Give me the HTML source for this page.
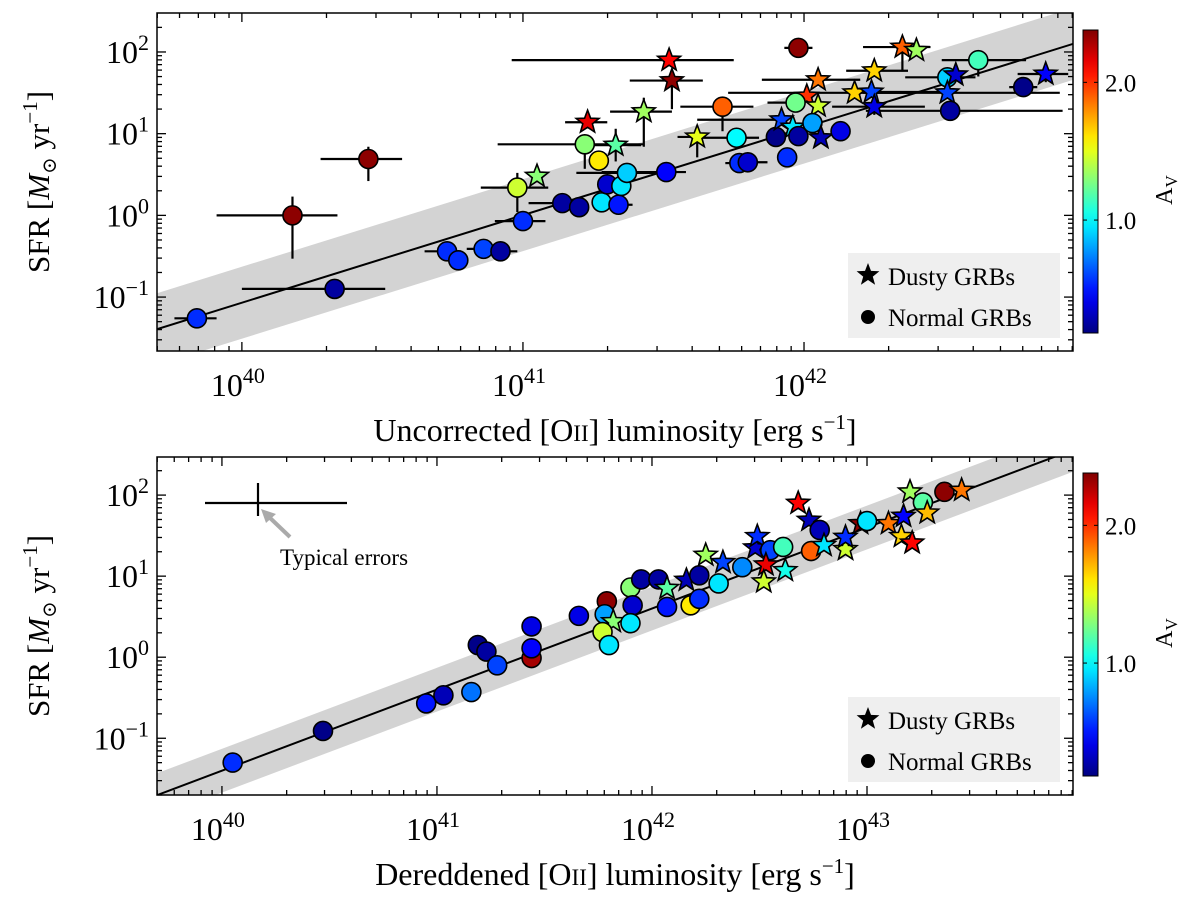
<!DOCTYPE html>
<html><head><meta charset="utf-8"><style>
body{margin:0;background:#fff}
svg{display:block}
text{font-family:"Liberation Serif","DejaVu Serif",serif;fill:#000}
</style></head><body>
<svg id="c" width="1200" height="906" viewBox="0 0 1200 906" xmlns="http://www.w3.org/2000/svg"></svg>
<script>
// ---- Top panel data (log10 L[OII] uncorrected, log10 SFR) ----
const topLogL=[39.84,40.18,40.45,40.33,40.73,40.77,40.86,40.92,40.98,41.05,41.00,41.14,41.20,41.28,41.34,41.30,41.35,41.37,41.51,41.27,41.22,41.23,41.33,41.43,41.52,41.53,41.71,41.62,41.76,41.77,41.80,41.90,41.92,41.96,41.94,41.98,42.05,42.01,41.97,42.05,42.03,41.98,42.06,42.13,42.25,42.18,42.24,42.25,42.35,42.40,42.51,42.54,42.51,42.52,42.62,42.78,42.86];
const topLogSFR=[-1.26,0.00,0.69,-0.90,-0.44,-0.55,-0.41,-0.44,0.34,0.48,-0.07,0.15,0.10,0.16,0.13,0.38,0.36,0.52,0.53,0.67,0.87,1.14,0.86,1.27,1.90,1.65,1.33,0.96,0.95,0.64,0.65,0.96,1.17,1.08,0.71,2.05,1.66,1.46,1.38,1.34,1.13,0.97,0.95,1.03,1.77,1.50,1.51,1.33,2.06,2.02,1.69,1.72,1.50,1.28,1.90,1.57,1.73];
const topAv=[0.55,2.35,2.35,0.25,0.55,0.55,0.6,0.25,1.45,1.3,0.55,0.25,0.25,0.95,0.5,0.35,0.95,0.9,0.45,1.6,1.3,2.15,1.2,1.35,2.1,2.35,1.9,1.5,1.0,0.55,0.35,0.2,0.6,0.95,0.55,2.35,1.85,2.0,1.25,1.45,0.8,0.25,0.3,0.4,1.65,1.65,0.6,0.4,1.9,1.35,0.9,0.35,0.6,0.25,1.15,0.2,0.45];
const topDusty=[0,0,0,0,0,0,0,0,0,1,0,0,0,0,0,0,0,0,0,0,0,1,1,1,1,1,0,1,0,0,0,0,1,1,0,0,1,1,0,1,0,0,1,0,1,1,1,1,1,1,0,1,1,0,0,0,1];
const topXlo=[.08,.27,.17,.33,.08,0,.06,.06,.13,0,.1,.12,0,0,0,0,0,.18,.23,0,.31,.08,.1,.12,.56,.15,.15,.07,.12,.05,0,0,.3,0,0,.05,.2,0,.1,0,0,0,0,0,.1,.45,0,.15,.14,0,.15,0,.3,.3,.13,.05,.1];
const topXhi=[.07,.16,.12,.18,.05,0,0,.06,.11,0,.08,.05,0,0,.05,0,0,.11,.07,0,.21,.07,.09,.1,.23,.11,.11,.03,.08,0,.07,0,0,0,0,.05,.15,0,0,0,0,0,0,0,.12,.2,.3,.18,.1,0,.1,0,.4,.4,.17,.05,.08];
const topYlo=[0,.53,.27,0,.1,0,0,0,.3,0,.05,0,0,0,0,0,0,.1,0,0,.3,0,.2,.43,0,.35,.3,.25,0,0,0,0,0,0,0,0,0,0,0,0,0,0,0,0,0,0,0,.1,.3,0,0,0,0,0,.2,0,.1];
const topYhi=[0,.23,.15,0,0,0,0,0,.18,0,0,0,0,0,0,0,0,.1,0,0,0,0,.2,.17,0,.13,.1,.1,0,0,0,0,0,0,0,0,.07,0,0,0,0,0,0,0,0,0,0,0,.1,0,0,0,0,0,.1,0,.1];
// ---- Bottom panel data (dereddened) ----
const botLogL=[40.05,40.47,40.95,41.03,41.16,41.19,41.23,41.28,41.44,41.44,41.44,41.66,41.79,41.78,41.82,41.77,41.80,41.90,41.95,41.91,41.90,42.03,42.07,42.07,42.16,42.18,42.22,42.22,42.25,42.31,42.33,42.42,42.48,42.49,42.55,42.61,42.53,42.52,42.62,42.68,42.73,42.78,42.74,42.80,42.90,42.90,42.97,43.00,43.10,43.17,43.16,43.21,43.20,43.26,43.28,43.36,43.44];
const botLogSFR=[-1.30,-0.91,-0.57,-0.47,-0.43,0.15,0.07,-0.10,-0.01,0.11,0.38,0.51,0.69,0.53,0.44,0.31,0.15,0.86,0.96,0.64,0.42,0.96,0.85,0.62,0.95,0.64,0.72,1.01,1.26,0.91,1.17,1.11,1.35,1.49,1.32,1.36,1.14,0.93,1.07,1.90,1.69,1.57,1.31,1.38,1.33,1.48,1.65,1.68,1.65,1.74,1.49,1.41,2.04,1.91,1.78,2.04,2.06];
const botAv=[0.55,0.2,0.5,0.3,0.7,0.2,0.25,0.6,2.3,0.45,0.4,0.4,2.35,0.8,1.3,1.45,0.95,1.3,0.25,0.35,0.95,0.25,1.2,0.5,0.3,1.6,0.55,0.25,1.35,0.95,0.6,0.75,0.35,0.55,0.6,1.15,2.15,1.45,1.05,2.1,0.3,0.3,1.9,0.95,1.45,0.55,2.35,0.95,1.85,0.45,1.65,2.1,1.35,1.2,1.7,2.35,1.85];
const botDusty=[0,0,0,0,0,0,0,0,0,0,0,0,0,0,1,0,0,0,0,0,0,0,1,0,1,0,0,0,1,0,1,0,1,1,0,0,1,1,1,1,1,0,0,1,1,1,1,0,1,1,1,1,1,0,1,0,1];
const xTicksTop=[40,41,42];
const xTicksBot=[40,41,42,43];
const yTicks=[-1,0,1,2];
const cbTicks=[1.0,2.0];
const avMin=0.18, avMax=2.38;

const S=document.getElementById('c'),NS='http://www.w3.org/2000/svg';
function el(t,a,p){const e=document.createElementNS(NS,t);for(const k in a)e.setAttribute(k,a[k]);(p||S).appendChild(e);return e;}
function jet(a){let v=(a-avMin)/(avMax-avMin);v=Math.max(0,Math.min(1,v));const c=x=>Math.round(255*Math.max(0,Math.min(1,1.5-Math.abs(4*v-x))));return `rgb(${c(3)},${c(2)},${c(1)})`;}
function starPath(cx,cy,R){const r=R*0.42;let d='';for(let i=0;i<10;i++){const a=-Math.PI/2+i*Math.PI/5,rr=i%2?r:R;d+=(i?'L':'M')+(cx+rr*Math.cos(a)).toFixed(1)+','+(cy+rr*Math.sin(a)).toFixed(1);}return d+'Z';}

function panel(cfg){
  const {L,T,R,B,x0,x1,y0,y1}=cfg;
  const X=v=>L+(v-x0)/(x1-x0)*(R-L), Y=v=>B-(v-y0)/(y1-y0)*(B-T);
  const g=el('g',{});
  
  
  const cp='clip'+cfg.name;
  const defs=el('defs',{},g);const clip=el('clipPath',{id:cp},defs);el('rect',{x:L,y:T,width:R-L,height:B-T},clip);
  const pg=el('g',{'clip-path':`url(#${cp})`},g);
  const fx0=x0-0.5,fx1=x1+0.5,f=v=>cfg.a+cfg.b*v;
  const band=el('polygon',{points:`${X(fx0)},${Y(f(fx0)+cfg.w)} ${X(fx1)},${Y(f(fx1)+cfg.w)} ${X(fx1)},${Y(f(fx1)-cfg.w)} ${X(fx0)},${Y(f(fx0)-cfg.w)}`,fill:'#d3d3d3'},pg);
  
  
  const ln=el('line',{x1:X(fx0),y1:Y(f(fx0)),x2:X(fx1),y2:Y(f(fx1)),stroke:'#000','stroke-width':2},pg);
  
  
  if(cfg.xlo){for(let i=0;i<cfg.lx.length;i++){const cx=X(cfg.lx[i]),cy=Y(cfg.ly[i]);
    if(cfg.xlo[i]||cfg.xhi[i]){const e=el('line',{x1:X(cfg.lx[i]-cfg.xlo[i]),x2:X(cfg.lx[i]+cfg.xhi[i]),y1:cy,y2:cy,stroke:'#000','stroke-width':2.2},pg);}
    if(cfg.ylo[i]||cfg.yhi[i]){const e=el('line',{x1:cx,x2:cx,y1:Y(cfg.ly[i]-cfg.ylo[i]),y2:Y(cfg.ly[i]+cfg.yhi[i]),stroke:'#000','stroke-width':2.2},pg);}}}
  for(let i=0;i<cfg.lx.length;i++){const cx=X(cfg.lx[i]),cy=Y(cfg.ly[i]);let m;
    if(cfg.dusty[i]){m=el('path',{d:starPath(cx,cy,12),fill:jet(cfg.av[i]),stroke:'#000','stroke-width':1.6,'stroke-linejoin':'miter'},pg);}
    else{m=el('circle',{cx,cy,r:9.5,fill:jet(cfg.av[i]),stroke:'#000','stroke-width':1.6},pg);}
    }
  el('rect',{x:L,y:T,width:R-L,height:B-T,fill:'none',stroke:'#000','stroke-width':1.5},g);
  for(let d=Math.floor(x0);d<=Math.ceil(x1);d++)for(let k=1;k<10;k++){const v=d+Math.log10(k);if(v<x0||v>x1)continue;const x=X(v),len=k==1?9:5;
    el('line',{x1:x,x2:x,y1:B,y2:B-len,stroke:'#000','stroke-width':1.3},g);el('line',{x1:x,x2:x,y1:T,y2:T+len,stroke:'#000','stroke-width':1.3},g);}
  for(let d=Math.floor(y0);d<=Math.ceil(y1);d++)for(let k=1;k<10;k++){const v=d+Math.log10(k);if(v<y0||v>y1)continue;const y=Y(v),len=k==1?9:5;
    el('line',{x1:L,x2:L+len,y1:y,y2:y,stroke:'#000','stroke-width':1.3},g);el('line',{x1:R,x2:R-len,y1:y,y2:y,stroke:'#000','stroke-width':1.3},g);}
  cfg.xt.forEach(t=>{const tx=el('text',{x:X(t)-4,y:B+45,'font-size':32,'text-anchor':'middle'},g);tx.innerHTML=`10<tspan dy="-13" font-size="22">${t}</tspan>`;});
  yTicks.forEach(t=>{const tx=el('text',{x:L-8,y:Y(t)+11,'font-size':32,'text-anchor':'end'},g);tx.innerHTML=`10<tspan dy="-13" font-size="22">${t<0?'−'+(-t):t}</tspan>`;});
  const yt=el('text',{transform:`translate(${L-108},${(T+B)/2}) rotate(-90)`,'font-size':31,'text-anchor':'middle'},g);
  yt.innerHTML='SFR [<tspan font-style="italic">M</tspan><tspan font-size="20" dy="7">⊙</tspan><tspan dy="-7"> yr</tspan><tspan font-size="21" dy="-12">−1</tspan><tspan dy="12">]</tspan>';
  
  const xt=el('text',{x:(L+R)/2,y:B+90,'font-size':32,'text-anchor':'middle'},g);
  xt.innerHTML=cfg.xtitle+' [O<tspan font-size="23">II</tspan>] luminosity [erg s<tspan font-size="21" dy="-12">−1</tspan><tspan dy="12">]</tspan>';
  
  const lg=el('g',{},g);
  el('rect',{x:848,y:B-98,width:212,height:85,fill:'#efefef'},lg);
  el('path',{d:starPath(868,B-76,12),fill:'#000'},lg);
  el('circle',{cx:868,cy:B-34,r:7,fill:'#000'},lg);
  const l1=el('text',{x:888,y:B-66,'font-size':25},lg);l1.textContent='Dusty GRBs';
  const l2=el('text',{x:888,y:B-25,'font-size':25},lg);l2.textContent='Normal GRBs';
  const cb=el('g',{},g);
  const gid='grad'+cfg.name;const lgd=el('linearGradient',{id:gid,x1:0,y1:1,x2:0,y2:0},defs);
  for(let i=0;i<=20;i++){const v=avMin+(avMax-avMin)*i/20;el('stop',{offset:i/20,'stop-color':jet(v)},lgd);}
  const cT=cfg.cbT,cB=cfg.cbT+303;
  el('rect',{x:1083,y:cT,width:15,height:cB-cT,fill:`url(#${gid})`,stroke:'#000','stroke-width':1},cb);
  cbTicks.forEach(t=>{const y=cB-(t-avMin)/(avMax-avMin)*(cB-cT);el('line',{x1:1083,x2:1087,y1:y,y2:y,stroke:'#000'},cb);el('line',{x1:1094,x2:1098,y1:y,y2:y,stroke:'#000'},cb);
    const tx=el('text',{x:1105,y:y+9,'font-size':25},cb);tx.textContent=t.toFixed(1);});
  const av=el('text',{transform:`translate(1172,${cT+160}) rotate(-90)`,'font-size':24,'text-anchor':'middle'},cb);
  av.innerHTML='A<tspan font-size="17" dy="5">V</tspan>';
  return {X,Y,g};
}
panel({name:'top-panel',L:157,T:13,R:1073,B:351,x0:39.698,x1:42.957,y0:-1.66,y1:2.477,a:-43.925,b:1.0714,w:0.44,
  lx:topLogL,ly:topLogSFR,av:topAv,dusty:topDusty,xlo:topXlo,xhi:topXhi,ylo:topYlo,yhi:topYhi,xt:xTicksTop,xtitle:'Uncorrected',cbT:30});
const P=panel({name:'bottom-panel',L:157,T:457,R:1073,B:795,x0:39.698,x1:43.958,y0:-1.70,y1:2.47,a:-41.4,b:1.0,w:0.27,
  lx:botLogL,ly:botLogSFR,av:botAv,dusty:botDusty,xt:xTicksBot,xtitle:'Dereddened',cbT:473});
const te=el('g',{});
el('line',{x1:205,x2:347,y1:503,y2:503,stroke:'#000','stroke-width':2.2},te);
el('line',{x1:258,x2:258,y1:483,y2:516,stroke:'#000','stroke-width':2.2},te);
el('line',{x1:290,x2:268,y1:537,y2:516,stroke:'#aaa','stroke-width':4},te);
el('polygon',{points:'261,509 276,514 266,523',fill:'#aaa'},te);
const tt=el('text',{x:280,y:565,'font-size':23},te);tt.textContent='Typical errors';
</script>
</body></html>
